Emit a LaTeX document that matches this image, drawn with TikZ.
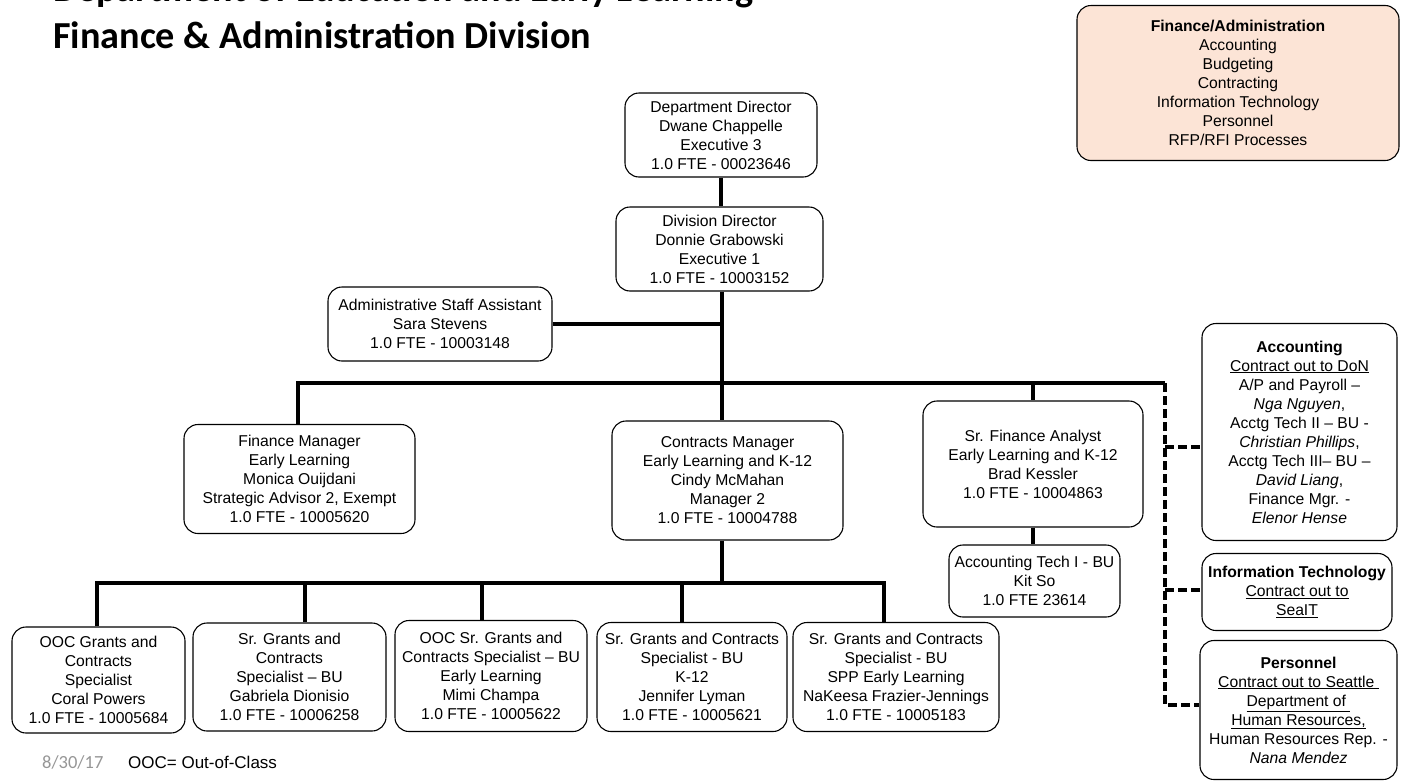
\documentclass[tikz,border=0pt]{standalone}
\usepackage{fontspec}
\setmainfont{Liberation Sans}
\newfontfamily\titlefont{Carlito}
\definecolor{finfill}{RGB}{252,228,214}
\definecolor{dategray}{RGB}{150,150,150}
\tikzset{
  box/.style={draw=black, line width=1.1pt, rounded corners=14pt, align=center,
    inner sep=0pt, font=\fontsize{15.7}{19}\selectfont},
  conn/.style={line width=4.2pt, line join=miter},
  dconn/.style={line width=4.5pt, dash pattern=on 9pt off 4pt},
  ttl/.style={anchor=base west, inner sep=0pt, font=\titlefont\bfseries\fontsize{38.2}{46}\selectfont},
}
\begin{document}
\begin{tikzpicture}[x=1pt,y=-1pt]
\clip (0,0) rectangle (1401,782);
\fill[white] (0,0) rectangle (1401,782);

% title
\node[ttl] (title1) at (53,1) {Department of Education and Early Learning};
\node[ttl] (title2) at (53,48) {Finance \& Administration Division};

% boxes
\node[box, fill=finfill, minimum width=322pt, minimum height=155pt] (finadm) at (1238,83)
 {\textbf{Finance/Administration}\\Accounting\\Budgeting\\Contracting\\Information Technology\\Personnel\\RFP/RFI Processes};
\node[box, minimum width=192pt, minimum height=84pt] (dept) at (721,135)
 {Department Director\\Dwane Chappelle\\Executive 3\\1.0 FTE - 00023646};
\node[box, minimum width=207pt, minimum height=84pt] (div) at (719.5,249)
 {Division Director\\Donnie Grabowski\\Executive 1\\1.0 FTE - 10003152};
\node[box, minimum width=224pt, minimum height=74pt] (admin) at (440,324)
 {Administrative Staff Assistant\\Sara Stevens\\1.0 FTE - 10003148};
\node[box, minimum width=231pt, minimum height=109pt] (fm) at (299.5,479)
 {Finance Manager\\Early Learning\\Monica Ouijdani\\Strategic Advisor 2, Exempt\\1.0 FTE - 10005620};
\node[box, minimum width=231pt, minimum height=119pt] (cm) at (727.5,480.5)
 {Contracts Manager\\Early Learning and K-12\\Cindy McMahan\\Manager 2\\1.0 FTE - 10004788};
\node[box, minimum width=220pt, minimum height=126pt] (sfa) at (1033,464)
 {Sr. Finance Analyst\\Early Learning and K-12\\Brad Kessler\\1.0 FTE - 10004863};
\node[box, minimum width=171pt, minimum height=72pt] (ati) at (1034.5,581)
 {Accounting Tech I - BU\\Kit So\\1.0 FTE 23614};
\node[box, minimum width=195pt, minimum height=217pt] (acc) at (1299.5,432)
 {\textbf{Accounting}\\\underline{Contract out to DoN}\\A/P and Payroll --\\\textit{Nga Nguyen},\\Acctg Tech II -- BU -\\\textit{Christian Phillips},\\Acctg Tech III-- BU --\\\textit{David Liang},\\Finance Mgr. -\\\textit{Elenor Hense}};
\node[box, minimum width=190pt, minimum height=77pt] (it) at (1297,592)
 {\textbf{Information Technology}\\\underline{Contract out to}\\\underline{SeaIT}};
\node[box, minimum width=197pt, minimum height=139pt] (pers) at (1298.5,710)
 {\textbf{Personnel}\\\underline{Contract out to Seattle }\\\underline{Department of }\\\underline{Human Resources,}\\Human Resources Rep. -\\\textit{Nana Mendez}};

\node[box, minimum width=173pt, minimum height=106pt] (b1) at (98.5,680)
 {OOC Grants and\\Contracts\\Specialist\\Coral Powers\\1.0 FTE - 10005684};
\node[box, minimum width=193pt, minimum height=108pt] (b2) at (289.5,677)
 {Sr. Grants and\\Contracts\\Specialist -- BU\\Gabriela Dionisio\\1.0 FTE - 10006258};
\node[box, minimum width=192pt, minimum height=111pt] (b3) at (491,676)
 {OOC Sr. Grants and\\Contracts Specialist -- BU\\Early Learning\\Mimi Champa\\1.0 FTE - 10005622};
\node[box, minimum width=190pt, minimum height=109pt] (b4) at (692,677)
 {Sr. Grants and Contracts\\Specialist - BU\\K-12\\Jennifer Lyman\\1.0 FTE - 10005621};
\node[box, minimum width=206pt, minimum height=109pt] (b5) at (896,677)
 {Sr. Grants and Contracts\\Specialist - BU\\SPP Early Learning\\NaKeesa Frazier-Jennings\\1.0 FTE - 10005183};

% junction coordinates
\coordinate (barL) at (298,383);
\coordinate (barM) at (722,383);
\coordinate (barR) at (1165,383);
\coordinate (dA) at (1165,447);
\coordinate (dI) at (1165,590);
\coordinate (dP) at (1165,705);
\coordinate (bL) at (97,583);
\coordinate (bM) at (722,583);
\coordinate (bR) at (884,583);
\coordinate (j2) at (305,583);
\coordinate (j3) at (482,583);
\coordinate (j4) at (682,583);

% connectors
\draw[conn] (dept.south) -- (dept.south |- div.north);
\draw[conn] (barM |- div.south) -- (barM);
\draw[conn] (admin.east) -- (admin.east -| barM);
\draw[conn] (barL |- fm.north) -- (barL) -- (barR);
\draw[conn] (barM) -- (barM |- cm.north);
\draw[conn] (barM -| sfa.north) -- (sfa.north);
\draw[conn] (sfa.south) -- (sfa.south |- ati.north);
\draw[dconn] (barR) -- (dP) -- (dP -| pers.west);
\draw[dconn] (dA) -- (dA -| acc.west);
\draw[dconn] (dI) -- (dI -| it.west);
\draw[conn] (bM |- cm.south) -- (bM);
\draw[conn] (bL |- b1.north) -- (bL) -- (bR) -- (bR |- b5.north);
\draw[conn] (j2) -- (j2 |- b2.north);
\draw[conn] (j3) -- (j3 |- b3.north);
\draw[conn] (j4) -- (j4 |- b4.north);

% footer
\node[anchor=base west, inner sep=0pt, text=dategray, font=\titlefont\fontsize{18.5}{22}\selectfont] (date) at (42,768) {8/30/17};
\node[anchor=base west, inner sep=0pt, font=\fontsize{17}{20}\selectfont] (ooc) at (128,768) {OOC= Out-of-Class};
\end{tikzpicture}
\end{document}
